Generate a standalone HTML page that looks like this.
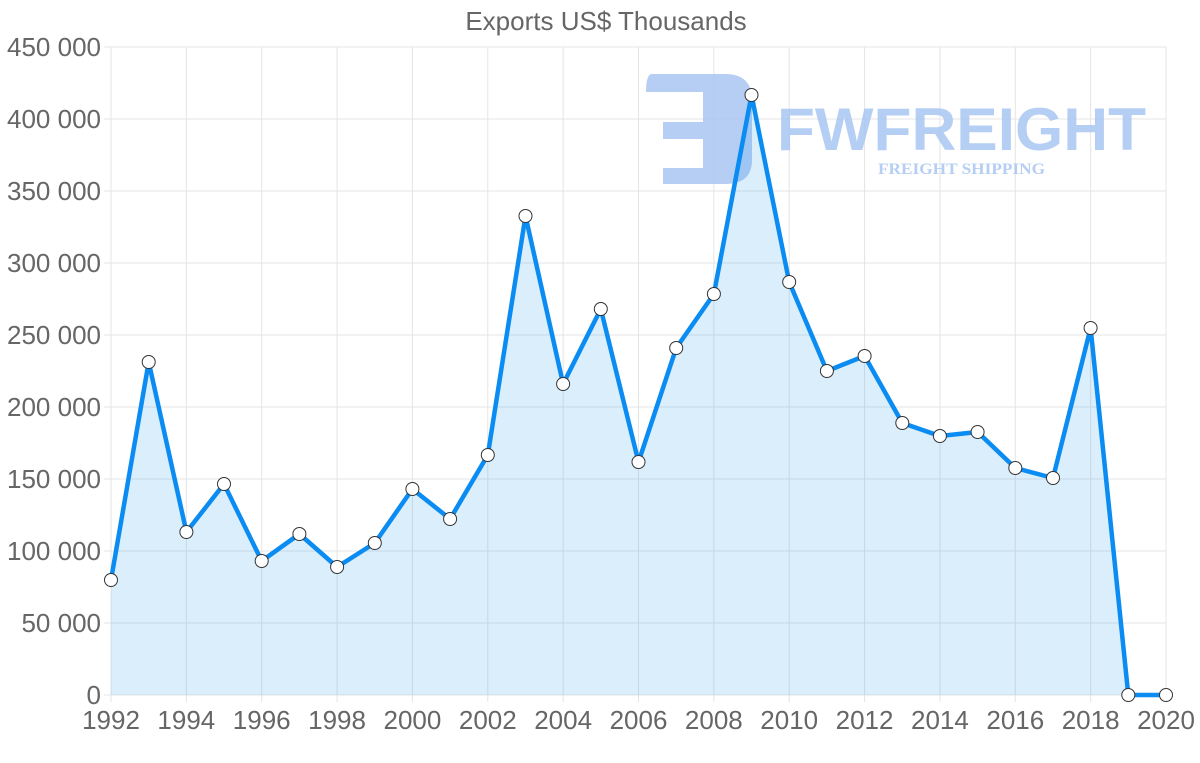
<!DOCTYPE html>
<html><head><meta charset="utf-8"><style>
html,body{margin:0;padding:0;background:#fff;width:1200px;height:763px;overflow:hidden}
svg{display:block}
text{font-family:"Liberation Sans",sans-serif;fill:#666}
</style></head><body>
<svg width="1200" height="763" viewBox="0 0 1200 763" xmlns="http://www.w3.org/2000/svg">
<text x="606" y="30" font-size="26" text-anchor="middle">Exports US$ Thousands</text>
<g id="grid" stroke="#e4e4e4" stroke-width="1"></g>
<g id="ylab" font-size="26"></g>
<g id="xlab" font-size="26"></g>
<!-- watermark -->
<g fill="#a9c6f2" opacity="0.85">
<path d="M652,74 H725 Q752,74 752,100 V160 Q752,184 725,184 H663 V168 H703 V139 H663 V122 H703 V92 H646 Q646,74 652,74 Z"/>
<text x="777" y="150" font-size="60" font-weight="bold" style="fill:#a9c6f2;font-family:'Liberation Sans',sans-serif" textLength="369" lengthAdjust="spacingAndGlyphs">FWFREIGHT</text>
<text x="878" y="174" font-size="16" font-weight="bold" style="fill:#a9c6f2;font-family:'Liberation Serif',serif" textLength="167" lengthAdjust="spacingAndGlyphs">FREIGHT SHIPPING</text>
</g>
<path id="area" fill="rgba(54,162,235,0.18)" stroke="none"/>
<path id="line" fill="none" stroke="#0b8cf2" stroke-width="4.5" stroke-linejoin="round"/>
<g id="pts" fill="#fff" stroke="#333" stroke-width="1"></g>
</svg>
<script>
var ys=[580,362,532,484,561,534,567,543,489,519,455,216,384,309,462,348,294,95,282,371,356,423,436,432,468,478,328,695,695];
var ns="http://www.w3.org/2000/svg";
function el(p,t,a,txt){var e=document.createElementNS(ns,t);for(var k in a)e.setAttribute(k,a[k]);if(txt!=null)e.textContent=txt;document.getElementById(p).appendChild(e);}
var x0=111,dx=(1166-111)/28;
for(var i=0;i<=9;i++){var y=695-i*72;el('grid','line',{x1:104,x2:1166,y1:y,y2:y});
el('ylab','text',{x:101,y:y+9,'text-anchor':'end'},i==0?'0':(i*50)+' 000');}
for(var j=0;j<=14;j++){var x=x0+j*2*dx;el('grid','line',{x1:x,x2:x,y1:47,y2:702});
el('xlab','text',{x:x,y:729,'text-anchor':'middle'},String(1992+j*2));}
var d='';for(var i=0;i<ys.length;i++){d+=(i?'L':'M')+(x0+i*dx).toFixed(1)+','+ys[i];}
document.getElementById('line').setAttribute('d',d);
document.getElementById('area').setAttribute('d',d+'L1166,695L111,695Z');
for(var i=0;i<ys.length;i++)el('pts','circle',{cx:(x0+i*dx).toFixed(1),cy:ys[i],r:6.5});
</script>
</body></html>
